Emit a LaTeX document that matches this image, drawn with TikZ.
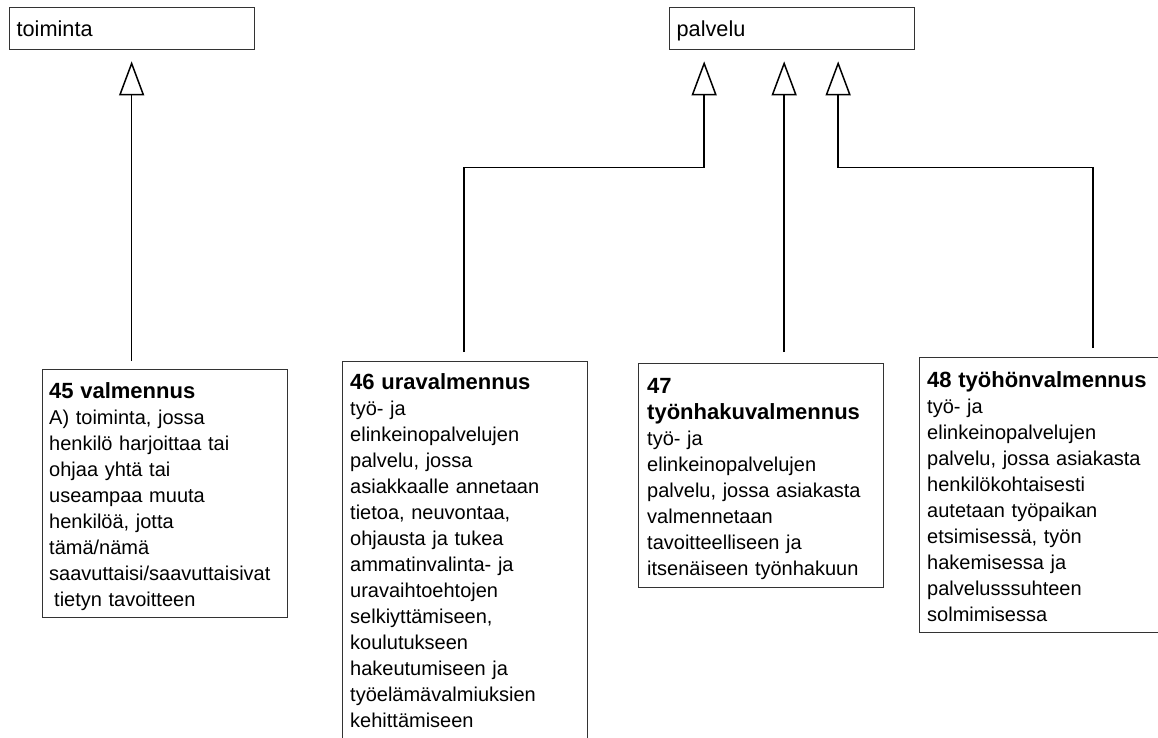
\documentclass[tikz,border=0pt]{standalone}
\usepackage{fontspec}
\setmainfont{Liberation Sans}
\usetikzlibrary{arrows.meta}
\tikzset{
  box/.style={draw=black!80, line width=1.3pt, fill=none, inner sep=0pt, anchor=north west},
  topbox/.style={box, minimum width=245pt, minimum height=42pt, text width=231pt, align=left, inner xsep=7pt, text height=17pt, text depth=1pt, font=\fontsize{21.7}{26}\selectfont},
  txt/.style={inner sep=0pt, anchor=north west, text width=236pt, align=left, font=\fontsize{20}{26}\selectfont},
  inh/.style={draw=black, line width=1.5pt, -{Triangle[open, length=34pt, width=25pt]}, shorten >=11pt},
}
\newcommand{\hd}[1]{{\fontsize{22}{26}\selectfont\bfseries\rule{0pt}{20pt}#1}}
\begin{document}
\begin{tikzpicture}[x=1pt, y=-1pt]
\useasboundingbox (0,0) rectangle (1158,737);
\fill[white] (0,0) rectangle (1158,737);

\node[topbox] (toim) at (9,7) {toiminta};
\node[topbox] (pal) at (669,7) {palvelu};

\node[box, minimum width=245pt, minimum height=248pt] (b45) at (42,369) {};
\node[box, minimum width=245pt, minimum height=400pt] (b46) at (342,361) {};
\node[box, minimum width=245pt, minimum height=224pt] (b47) at (638,363) {};
\node[box, minimum width=245pt, minimum height=275pt] (b48) at (919,357) {};

\node[txt] (t45) at ([xshift=7pt,yshift=-9pt]b45.north west) {\hd{45 valmennus}\\
A) toiminta, jossa\\
henkilö harjoittaa tai\\
ohjaa yhtä tai\\
useampaa muuta\\
henkilöä, jotta\\
tämä/nämä\\
saavuttaisi/saavuttaisivat\\
\hspace*{5pt}tietyn tavoitteen};

\node[txt] (t46) at ([xshift=8pt,yshift=-8pt]b46.north west) {\hd{46 uravalmennus}\\
työ- ja\\
elinkeinopalvelujen\\
palvelu, jossa\\
asiakkaalle annetaan\\
tietoa, neuvontaa,\\
ohjausta ja tukea\\
ammatinvalinta- ja\\
uravaihtoehtojen\\
selkiyttämiseen,\\
koulutukseen\\
hakeutumiseen ja\\
työelämävalmiuksien\\
kehittämiseen};

\node[txt] (t47) at ([xshift=9pt,yshift=-10pt]b47.north west) {\hd{47}\\
\hd{työnhakuvalmennus}\\
työ- ja\\
elinkeinopalvelujen\\
palvelu, jossa asiakasta\\
valmennetaan\\
tavoitteelliseen ja\\
itsenäiseen työnhakuun};

\node[txt] (t48) at ([xshift=8pt,yshift=-10pt]b48.north west) {\hd{48 työhönvalmennus}\\
työ- ja\\
elinkeinopalvelujen\\
palvelu, jossa asiakasta\\
henkilökohtaisesti\\
autetaan työpaikan\\
etsimisessä, työn\\
hakemisessa ja\\
palvelusssuhteen\\
solmimisessa};

\coordinate (p0) at ([xshift=-0.5pt]toim.south);
\coordinate (p1) at ([xshift=-88pt]pal.south);
\coordinate (p2) at ([xshift=-8pt]pal.south);
\coordinate (p3) at ([xshift=46pt]pal.south);

\draw[inh] ([yshift=8pt]b45.north -| p0) -- (p0);
\draw[inh] ([xshift=122pt,yshift=9pt]b46.north west) |- ([yshift=-117pt]p1) -- (p1);
\draw[inh] ([yshift=11pt]b47.north -| p2) -- (p2);
\draw[inh] ([xshift=174pt,yshift=9pt]b48.north west) |- ([yshift=-117pt]p3) -- (p3);
\end{tikzpicture}
\end{document}
